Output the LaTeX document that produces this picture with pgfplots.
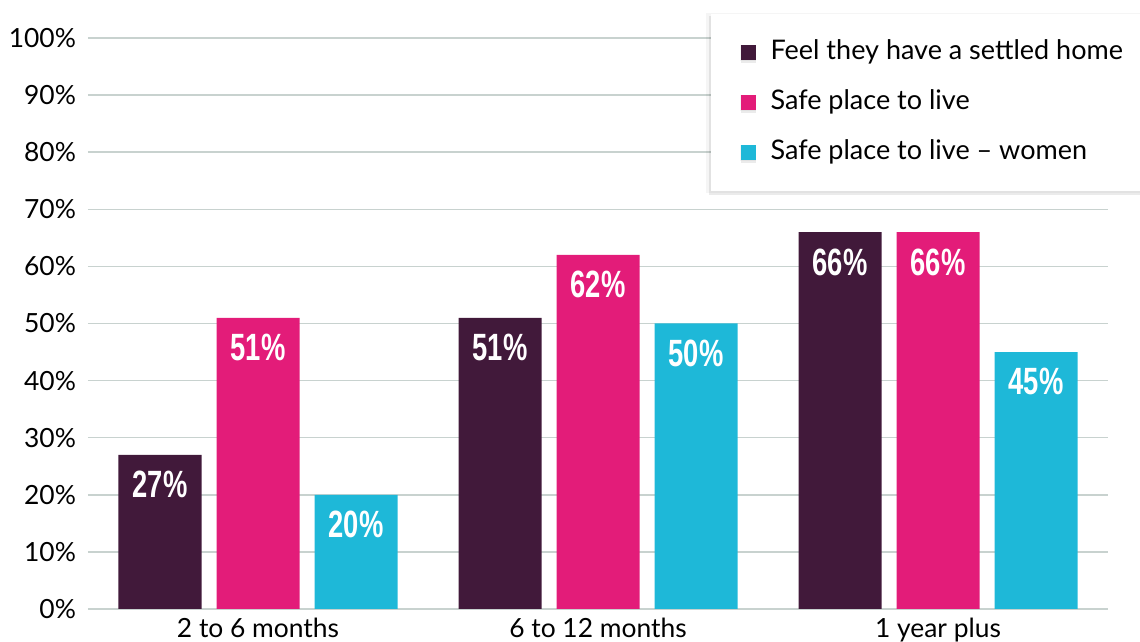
\documentclass[border=0pt]{standalone}
\usepackage{pgfplots}
\pgfplotsset{compat=1.18}
\usepackage{fontspec}
\setmainfont{Lato}
\newfontfamily\barfont[FakeStretch=0.72]{Liberation Sans}
\usetikzlibrary{shadows,calc}

\definecolor{plum}{HTML}{41193A}
\definecolor{rose}{HTML}{E31C79}
\definecolor{sky}{HTML}{1EB8D8}
\definecolor{gridc}{HTML}{C8D2CF}

\pgfplotsset{sqlegend/.style={legend image code/.code={\fill[##1] (0pt,-3.75pt) rectangle (7.5pt,3.75pt);}}}

\begin{document}
\begin{tikzpicture}
\begin{axis}[
    scale only axis, width=510pt, height=285.5pt,
    xmin=-0.5, xmax=2.5, ymin=0, ymax=100,
    ybar=7.5pt, bar width=41.5pt,
    xtick={0,1,2},
    xticklabels={2 to 6 months, 6 to 12 months, 1 year plus},
    ytick={0,10,...,100},
    yticklabel={\pgfmathprintnumber{\tick}\%},
    /pgf/number format/assume math mode=true,
    major tick length=0pt,
    axis line style={draw=none},
    ymajorgrids, grid style={gridc, line width=0.75pt},
    tick label style={font=\fontsize{13.2}{15}\selectfont, text=black},
    yticklabel style={xshift=-2.5pt},
    xticklabel style={yshift=-1pt},
    nodes near coords={\pgfmathprintnumber{\pgfplotspointmeta}\%},
    every node near coord/.append style={font={\fontsize{19}{20}\barfont\bfseries}, text=white, anchor=north, inner sep=0pt, yshift=-8pt},
    legend cell align=left,
    legend style={at={(rel axis cs:0.61,1.042)}, anchor=north west,
        draw=none, fill=white,
        drop shadow={shadow xshift=0pt, shadow yshift=0pt, shadow scale=1.02, opacity=0.04, fill=black},
        drop shadow={shadow xshift=0pt, shadow yshift=-1.2pt, shadow scale=1.008, opacity=0.08, fill=black},
        font=\fontsize{13.5}{15}\selectfont,
        inner xsep=15pt, inner ysep=13pt, row sep=12.5pt, column sep=7.5pt,
        nodes={inner sep=0pt, text height=9.5pt, text depth=3pt}},
]
\addplot[fill=plum, draw=none, sqlegend] coordinates {(0,27) (1,51) (2,66)};
\addplot[fill=rose, draw=none, sqlegend] coordinates {(0,51) (1,62) (2,66)};
\addplot[fill=sky, draw=none, sqlegend] coordinates {(0,20) (1,50) (2,45)};
\legend{Feel they have a settled home, Safe place to live, Safe place to live -- women}
\end{axis}
\pgfresetboundingbox
\path[use as bounding box] ($(current axis.south west)+(-44pt,-16.5pt)$) rectangle ($(current axis.south west)+(526pt,304.5pt)$);
\end{tikzpicture}
\end{document}
